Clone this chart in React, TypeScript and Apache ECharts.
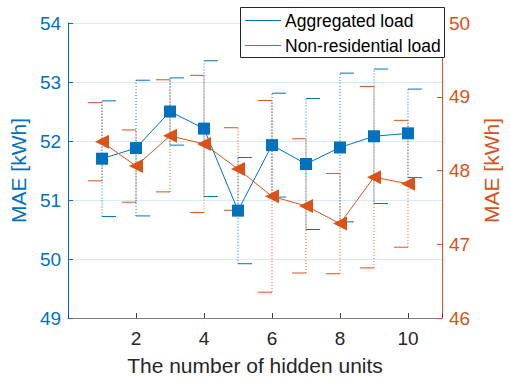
import React, { useEffect, useRef } from "react";
import * as echarts from "echarts";

const units = [1, 2, 3, 4, 5, 6, 7, 8, 9, 10];
const aggMean = [51.70, 51.88, 52.50, 52.21, 50.82, 51.93, 51.61, 51.89, 52.08, 52.13];
const aggErr = [0.98, 1.15, 0.57, 1.15, 0.90, 0.88, 1.11, 1.26, 1.14, 0.75];
const nonMean = [48.39, 48.06, 48.47, 48.36, 48.02, 47.65, 47.52, 47.28, 47.91, 47.82];
const nonErr = [0.53, 0.49, 0.76, 0.93, 0.56, 1.30, 0.91, 0.68, 1.23, 0.86];
const leftTicks = { min: 49, max: 54, interval: 1 };
const rightTicks = { min: 46, max: 50, interval: 1 };
const xTicks = { min: 0, max: 11, interval: 2 };
const legendNames = ["Aggregated load", "Non-residential load"];

const BLUE = "#0072BD";
const ORANGE = "#D95319";
const FONT = "'Liberation Sans', Arial, Helvetica, sans-serif";

function errRender(color: string, dir: number) {
  return (params: any, api: any) => {
    const x = api.value(0);
    const lo = api.value(1);
    const hi = api.value(2);
    const pLo = api.coord([x, lo]);
    const pHi = api.coord([x, hi]);
    const cap = 14;
    return {
      type: "group",
      children: [
        {
          type: "line",
          shape: { x1: pLo[0], y1: pLo[1], x2: pHi[0], y2: pHi[1] },
          style: { stroke: color, lineWidth: 1, lineDash: [1, 2] },
        },
        {
          type: "line",
          shape: { x1: pHi[0], y1: pHi[1], x2: pHi[0] + cap * dir, y2: pHi[1] },
          style: { stroke: color, lineWidth: 1 },
        },
        {
          type: "line",
          shape: { x1: pLo[0], y1: pLo[1], x2: pLo[0] + cap * dir, y2: pLo[1] },
          style: { stroke: color, lineWidth: 1 },
        },
      ],
    };
  };
}

export default function App() {
  const ref = useRef<HTMLDivElement>(null);
  useEffect(() => {
    if (!ref.current) return;
    const chart = echarts.init(ref.current, undefined, { renderer: "svg" });
    const aggData = units.map((u, i) => [u, aggMean[i]]);
    const nonData = units.map((u, i) => [u, nonMean[i]]);
    const aggErrData = units.map((u, i) => [u, aggMean[i] - aggErr[i], aggMean[i] + aggErr[i]]);
    const nonErrData = units.map((u, i) => [u, nonMean[i] - nonErr[i], nonMean[i] + nonErr[i]]);
    chart.setOption({
      animation: false,
      backgroundColor: "#ffffff",
      grid: { left: 64, right: 58, top: 23, bottom: 59, containLabel: false },
      xAxis: {
        type: "value",
        min: xTicks.min,
        max: xTicks.max,
        interval: xTicks.interval,
        name: "The number of hidden units",
        nameLocation: "middle",
        nameGap: 37,
        nameTextStyle: { fontSize: 21, color: "#262626", fontFamily: FONT },
        axisLine: { show: true, lineStyle: { color: "#808080", width: 1 } },
        axisTick: { show: true, inside: true, length: 5, lineStyle: { color: "#404040" } },
        axisLabel: {
          fontSize: 19,
          color: "#262626",
          fontFamily: FONT,
          margin: 11,
          formatter: (v: number) => (v > 0 && v <= 10 && v % 2 === 0 ? String(v) : ""),
        },
        splitLine: { show: false },
      },
      yAxis: [
        {
          type: "value",
          min: leftTicks.min,
          max: leftTicks.max,
          interval: leftTicks.interval,
          position: "left",
          name: "MAE [kWh]",
          nameLocation: "middle",
          nameGap: 32,
          nameTextStyle: { fontSize: 21, color: BLUE, fontFamily: FONT },
          axisLine: { show: true, lineStyle: { color: BLUE, width: 1 } },
          axisTick: { show: true, inside: true, length: 5, lineStyle: { color: BLUE } },
          axisLabel: { fontSize: 19, color: BLUE, fontFamily: FONT, margin: 7 },
          splitLine: { show: true, lineStyle: { color: "#D9EAF5", width: 1 } },
        },
        {
          type: "value",
          min: rightTicks.min,
          max: rightTicks.max,
          interval: rightTicks.interval,
          position: "right",
          name: "MAE [kWh]",
          nameLocation: "middle",
          nameGap: 35.5,
          nameTextStyle: { fontSize: 21, color: ORANGE, fontFamily: FONT },
          axisLine: { show: true, lineStyle: { color: ORANGE, width: 1 } },
          axisTick: { show: true, inside: true, length: 5, lineStyle: { color: ORANGE } },
          axisLabel: { fontSize: 19, color: ORANGE, fontFamily: FONT, margin: 7 },
          splitLine: { show: false },
        },
      ],
      series: [
        {
          type: "custom",
          name: "aggErr",
          xAxisIndex: 0,
          yAxisIndex: 0,
          renderItem: errRender(BLUE, 1),
          encode: { x: 0, y: [1, 2] },
          data: aggErrData,
          z: 2,
        },
        {
          type: "custom",
          name: "nonErr",
          xAxisIndex: 0,
          yAxisIndex: 1,
          renderItem: errRender(ORANGE, -1),
          encode: { x: 0, y: [1, 2] },
          data: nonErrData,
          z: 2,
        },
        {
          type: "line",
          name: legendNames[0],
          yAxisIndex: 0,
          data: aggData,
          symbol: "rect",
          symbolSize: 12,
          showSymbol: true,
          itemStyle: { color: BLUE },
          lineStyle: { color: BLUE, width: 1 },
          z: 3,
        },
        {
          type: "line",
          name: legendNames[1],
          yAxisIndex: 1,
          data: nonData,
          symbol: "triangle",
          symbolRotate: 90,
          symbolSize: 14,
          showSymbol: true,
          itemStyle: { color: ORANGE },
          lineStyle: { color: ORANGE, width: 1 },
          z: 4,
        },
      ],
      graphic: [
        {
          type: "rect",
          z: 100,
          shape: { x: 240.5, y: 7.5, width: 204, height: 50 },
          style: { fill: "#ffffff", stroke: "#262626", lineWidth: 1 },
        },
        {
          type: "line",
          z: 101,
          shape: { x1: 245, y1: 20.5, x2: 281, y2: 20.5 },
          style: { stroke: BLUE, lineWidth: 1 },
        },
        {
          type: "line",
          z: 101,
          shape: { x1: 245, y1: 45.5, x2: 281, y2: 45.5 },
          style: { stroke: ORANGE, lineWidth: 1 },
        },
        {
          type: "text",
          z: 101,
          x: 285,
          y: 21,
          style: {
            text: legendNames[0],
            fontSize: 17.5,
            fontFamily: FONT,
            fill: "#000000",
            verticalAlign: "middle",
          },
        },
        {
          type: "text",
          z: 101,
          x: 285,
          y: 45.5,
          style: {
            text: legendNames[1],
            fontSize: 17.5,
            fontFamily: FONT,
            fill: "#000000",
            verticalAlign: "middle",
          },
        },
      ],
    });
    return () => chart.dispose();
  }, []);
  return (
    <div
      ref={ref}
      style={{ position: "absolute", left: 0, top: 0, width: 510, height: 381 }}
    />
  );
}
